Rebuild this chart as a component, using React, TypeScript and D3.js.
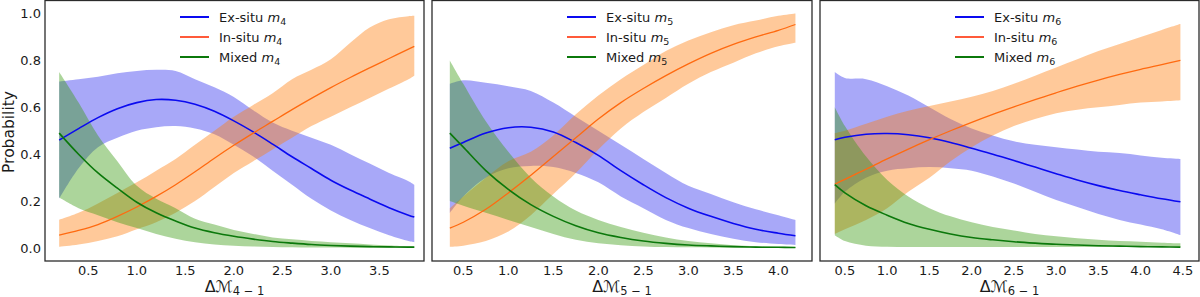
import React from 'react';
import * as d3 from 'd3';

// ---------- Panel 1 (ΔM 4-1) ----------
const P1_X = [0.2, 0.4, 0.6, 0.8, 1.0, 1.2, 1.4, 1.6, 1.8, 2.0, 2.2, 2.4, 2.6, 2.8, 3.0, 3.2, 3.4, 3.6, 3.8, 3.86];
const P1_EX = [0.46, 0.509, 0.556, 0.594, 0.62, 0.633, 0.63, 0.613, 0.583, 0.542, 0.495, 0.443, 0.389, 0.339, 0.289, 0.247, 0.209, 0.172, 0.14, 0.132];
const P1_EX_HI = [0.71, 0.72, 0.73, 0.745, 0.755, 0.76, 0.755, 0.72, 0.685, 0.644, 0.587, 0.535, 0.5, 0.47, 0.44, 0.4, 0.36, 0.32, 0.285, 0.27];
const P1_EX_LO = [0.21, 0.34, 0.43, 0.47, 0.5, 0.515, 0.52, 0.51, 0.485, 0.44, 0.39, 0.33, 0.27, 0.21, 0.16, 0.12, 0.085, 0.055, 0.03, 0.025];
const P1_IN = [0.055, 0.075, 0.1, 0.135, 0.175, 0.22, 0.27, 0.325, 0.383, 0.438, 0.49, 0.54, 0.59, 0.638, 0.684, 0.727, 0.768, 0.808, 0.848, 0.86];
const P1_IN_HI = [0.12, 0.15, 0.19, 0.235, 0.28, 0.33, 0.38, 0.44, 0.5, 0.56, 0.61, 0.66, 0.72, 0.76, 0.805, 0.875, 0.94, 0.975, 0.988, 0.99];
const P1_IN_LO = [0.005, 0.015, 0.03, 0.05, 0.08, 0.11, 0.15, 0.2, 0.26, 0.32, 0.37, 0.42, 0.47, 0.52, 0.56, 0.6, 0.64, 0.68, 0.72, 0.735];
const P1_MX = [0.49, 0.4, 0.32, 0.255, 0.195, 0.15, 0.115, 0.085, 0.065, 0.05, 0.038, 0.028, 0.021, 0.015, 0.011, 0.008, 0.006, 0.005, 0.004, 0.004];
const P1_MX_HI = [0.75, 0.62, 0.48, 0.37, 0.265, 0.21, 0.17, 0.125, 0.1, 0.077, 0.06, 0.045, 0.037, 0.03, 0.025, 0.02, 0.015, 0.011, 0.008, 0.007];
const P1_MX_LO = [0.215, 0.17, 0.14, 0.11, 0.085, 0.06, 0.04, 0.025, 0.015, 0.01, 0.007, 0.004, 0.003, 0.002, 0.002, 0.001, 0.001, 0.001, 0.001, 0.001];
const P1_TICKS = [0.5, 1.0, 1.5, 2.0, 2.5, 3.0, 3.5];

// ---------- Panel 2 (ΔM 5-1) ----------
const P2_X = [0.35, 0.5, 0.75, 1.0, 1.25, 1.5, 1.75, 2.0, 2.25, 2.5, 2.75, 3.0, 3.25, 3.5, 3.75, 4.0, 4.19];
const P2_EX = [0.425, 0.45, 0.49, 0.513, 0.515, 0.495, 0.45, 0.395, 0.33, 0.27, 0.215, 0.17, 0.135, 0.105, 0.08, 0.063, 0.052];
const P2_EX_HI = [0.7, 0.715, 0.705, 0.69, 0.67, 0.62, 0.56, 0.5, 0.44, 0.38, 0.32, 0.265, 0.23, 0.195, 0.165, 0.14, 0.12];
const P2_EX_LO = [0.15, 0.22, 0.3, 0.34, 0.35, 0.345, 0.32, 0.28, 0.22, 0.17, 0.12, 0.085, 0.06, 0.04, 0.025, 0.017, 0.013];
const P2_IN = [0.085, 0.11, 0.165, 0.235, 0.31, 0.39, 0.47, 0.55, 0.62, 0.68, 0.735, 0.785, 0.83, 0.868, 0.9, 0.928, 0.953];
const P2_IN_HI = [0.17, 0.22, 0.3, 0.37, 0.41, 0.48, 0.57, 0.65, 0.72, 0.78, 0.84, 0.885, 0.92, 0.95, 0.97, 0.99, 1.0];
const P2_IN_LO = [0.005, 0.01, 0.03, 0.07, 0.14, 0.23, 0.32, 0.42, 0.51, 0.58, 0.64, 0.7, 0.75, 0.79, 0.83, 0.86, 0.875];
const P2_MX = [0.49, 0.43, 0.33, 0.25, 0.185, 0.135, 0.095, 0.065, 0.045, 0.03, 0.02, 0.013, 0.009, 0.006, 0.004, 0.003, 0.002];
const P2_MX_HI = [0.8, 0.7, 0.54, 0.41, 0.3, 0.22, 0.16, 0.12, 0.09, 0.065, 0.045, 0.03, 0.02, 0.012, 0.008, 0.005, 0.004];
const P2_MX_LO = [0.2, 0.18, 0.15, 0.12, 0.09, 0.06, 0.035, 0.02, 0.012, 0.007, 0.004, 0.003, 0.002, 0.001, 0.001, 0.0, 0.0];
const P2_TICKS = [0.5, 1.0, 1.5, 2.0, 2.5, 3.0, 3.5, 4.0];

// ---------- Panel 3 (ΔM 6-1) ----------
const P3_X = [0.38, 0.5, 0.75, 1.0, 1.25, 1.5, 1.75, 2.0, 2.25, 2.5, 2.75, 3.0, 3.25, 3.5, 3.75, 4.0, 4.25, 4.47];
const P3_EX = [0.462, 0.472, 0.485, 0.488, 0.483, 0.47, 0.45, 0.425, 0.4, 0.373, 0.345, 0.317, 0.29, 0.266, 0.245, 0.227, 0.21, 0.197];
const P3_EX_HI = [0.75, 0.725, 0.72, 0.69, 0.65, 0.6, 0.55, 0.51, 0.48, 0.455, 0.44, 0.43, 0.42, 0.41, 0.405, 0.395, 0.385, 0.38];
const P3_EX_LO = [0.19, 0.24, 0.3, 0.33, 0.34, 0.345, 0.34, 0.33, 0.305, 0.275, 0.24, 0.205, 0.175, 0.145, 0.12, 0.1, 0.08, 0.055];
const P3_IN = [0.272, 0.293, 0.336, 0.38, 0.422, 0.462, 0.5, 0.536, 0.57, 0.602, 0.633, 0.662, 0.69, 0.716, 0.74, 0.762, 0.782, 0.8];
const P3_IN_HI = [0.49, 0.5, 0.53, 0.56, 0.585, 0.605, 0.625, 0.645, 0.67, 0.7, 0.735, 0.77, 0.805, 0.84, 0.87, 0.9, 0.93, 0.955];
const P3_IN_LO = [0.06, 0.08, 0.12, 0.17, 0.24, 0.3, 0.37, 0.43, 0.48, 0.52, 0.55, 0.575, 0.59, 0.6, 0.61, 0.62, 0.625, 0.63];
const P3_MX = [0.27, 0.235, 0.18, 0.14, 0.105, 0.08, 0.06, 0.045, 0.035, 0.027, 0.021, 0.016, 0.013, 0.01, 0.008, 0.006, 0.005, 0.004];
const P3_MX_HI = [0.6, 0.52, 0.39, 0.29, 0.22, 0.17, 0.135, 0.11, 0.09, 0.075, 0.06, 0.05, 0.042, 0.035, 0.03, 0.027, 0.023, 0.02];
const P3_MX_LO = [0.055, 0.03, 0.01, 0.005, 0.004, 0.004, 0.004, 0.004, 0.004, 0.004, 0.004, 0.004, 0.004, 0.004, 0.004, 0.004, 0.004, 0.004];
const P3_TICKS = [0.5, 1.0, 1.5, 2.0, 2.5, 3.0, 3.5, 4.0, 4.5];

const Y_TICKS = [0.0, 0.2, 0.4, 0.6, 0.8, 1.0];
const SERIES_NAMES = ['Ex-situ', 'In-situ', 'Mixed'];

const FONT = 'DejaVu Sans, Verdana, sans-serif';
const TEXT = '#1a1a1a';

const STYLE = {
  ex: { band: 'rgb(0,0,235)', bandOp: 0.34, line: '#0a0af0', lw: 1.6, legend: '#0a0af0' },
  in: { band: '#ff7f0e', bandOp: 0.42, line: '#ff6a10', lw: 1.3, legend: '#ff5a3a' },
  mx: { band: '#3a9a10', bandOp: 0.42, line: '#0b780b', lw: 1.6, legend: '#0b780b' },
};

const panels = [
  { id: 1, sub: '4', x: P1_X, ex: [P1_EX, P1_EX_LO, P1_EX_HI], inn: [P1_IN, P1_IN_LO, P1_IN_HI], mx: [P1_MX, P1_MX_LO, P1_MX_HI], ticks: P1_TICKS, left: 45, right: 424, domain: [0.054, 3.96] },
  { id: 2, sub: '5', x: P2_X, ex: [P2_EX, P2_EX_LO, P2_EX_HI], inn: [P2_IN, P2_IN_LO, P2_IN_HI], mx: [P2_MX, P2_MX_LO, P2_MX_HI], ticks: P2_TICKS, left: 432, right: 812, domain: [0.152, 4.374] },
  { id: 3, sub: '6', x: P3_X, ex: [P3_EX, P3_EX_LO, P3_EX_HI], inn: [P3_IN, P3_IN_LO, P3_IN_HI], mx: [P3_MX, P3_MX_LO, P3_MX_HI], ticks: P3_TICKS, left: 820, right: 1199, domain: [0.205, 4.69] },
];

const TOP = 0.5;
const BOTTOM = 261;

export default function App() {
  const y = d3.scaleLinear().domain([-0.0553, 1.0553]).range([BOTTOM, TOP]);
  const smooth = d3.curveCatmullRom.alpha(0.5);

  return (
    <svg
      width={1200}
      height={297}
      viewBox="0 0 1200 297"
      style={{ position: 'absolute', left: 0, top: 0, display: 'block', background: '#fff' }}
      fontFamily={FONT}
    >
      <rect x={0} y={0} width={1200} height={297} fill="#fff" />
      {panels.map((p) => {
        const xs = d3.scaleLinear().domain(p.domain).range([p.left, p.right]);
        const idx = p.x.map((_, i) => i);
        const area = (lo: number[], hi: number[]) =>
          d3
            .area<number>()
            .x((i) => xs(p.x[i]))
            .y0((i) => y(lo[i]))
            .y1((i) => y(hi[i]))
            .curve(smooth)(idx) || '';
        const line = (m: number[]) =>
          d3
            .line<number>()
            .x((i) => xs(p.x[i]))
            .y((i) => y(m[i]))
            .curve(smooth)(idx) || '';
        const clipId = `clip-${p.id}`;
        const legendX = p.left + 135;
        const legendRows = [
          { name: SERIES_NAMES[0], st: STYLE.ex },
          { name: SERIES_NAMES[1], st: STYLE.in },
          { name: SERIES_NAMES[2], st: STYLE.mx },
        ];
        const cx = (p.left + p.right) / 2;
        return (
          <g key={p.id}>
            <defs>
              <clipPath id={clipId}>
                <rect x={p.left} y={TOP} width={p.right - p.left} height={BOTTOM - TOP} />
              </clipPath>
            </defs>
            <g clipPath={`url(#${clipId})`}>
              <path d={area(p.ex[1], p.ex[2])} fill={STYLE.ex.band} fillOpacity={STYLE.ex.bandOp} />
              <path d={area(p.inn[1], p.inn[2])} fill={STYLE.in.band} fillOpacity={STYLE.in.bandOp} />
              <path d={area(p.mx[1], p.mx[2])} fill={STYLE.mx.band} fillOpacity={STYLE.mx.bandOp} />
              <path d={line(p.ex[0])} fill="none" stroke={STYLE.ex.line} strokeWidth={STYLE.ex.lw} />
              <path d={line(p.inn[0])} fill="none" stroke={STYLE.in.line} strokeWidth={STYLE.in.lw} />
              <path d={line(p.mx[0])} fill="none" stroke={STYLE.mx.line} strokeWidth={STYLE.mx.lw} />
            </g>
            {/* legend */}
            {legendRows.map((r, i) => {
              const ly = 17 + i * 20;
              return (
                <g key={r.name}>
                  <line x1={legendX} x2={legendX + 29} y1={ly} y2={ly} stroke={r.st.legend} strokeWidth={2} />
                  <text x={legendX + 39} y={ly + 4.7} fontSize={13} fill={TEXT}>
                    {r.name}{' '}
                    <tspan fontStyle="italic">m</tspan>
                    <tspan fontSize={9.5} dy={2.8}>{p.sub}</tspan>
                  </text>
                </g>
              );
            })}
            {/* x tick labels */}
            {p.ticks.map((t) => (
              <text key={t} x={xs(t)} y={275} fontSize={13} textAnchor="middle" fill={TEXT}>
                {t.toFixed(1)}
              </text>
            ))}
            {/* x label */}
            <text x={cx} y={292} fontSize={16} textAnchor="middle" fill={TEXT}>
              Δℳ
              <tspan fontSize={11.5} dy={3}>{`${p.sub} − 1`}</tspan>
            </text>
            {/* frame */}
            <rect x={p.left} y={TOP} width={p.right - p.left} height={BOTTOM - TOP} fill="none" stroke="#2b2b2b" strokeWidth={1.3} />
          </g>
        );
      })}
      {/* y ticks for panel 1 */}
      {Y_TICKS.map((t) => (
        <text key={t} x={41} y={y(t)} dy="0.35em" fontSize={13} textAnchor="end" fill={TEXT}>
          {t.toFixed(1)}
        </text>
      ))}
      <text transform="translate(13.5,132) rotate(-90)" fontSize={15.5} textAnchor="middle" fill={TEXT}>
        Probability
      </text>
    </svg>
  );
}
